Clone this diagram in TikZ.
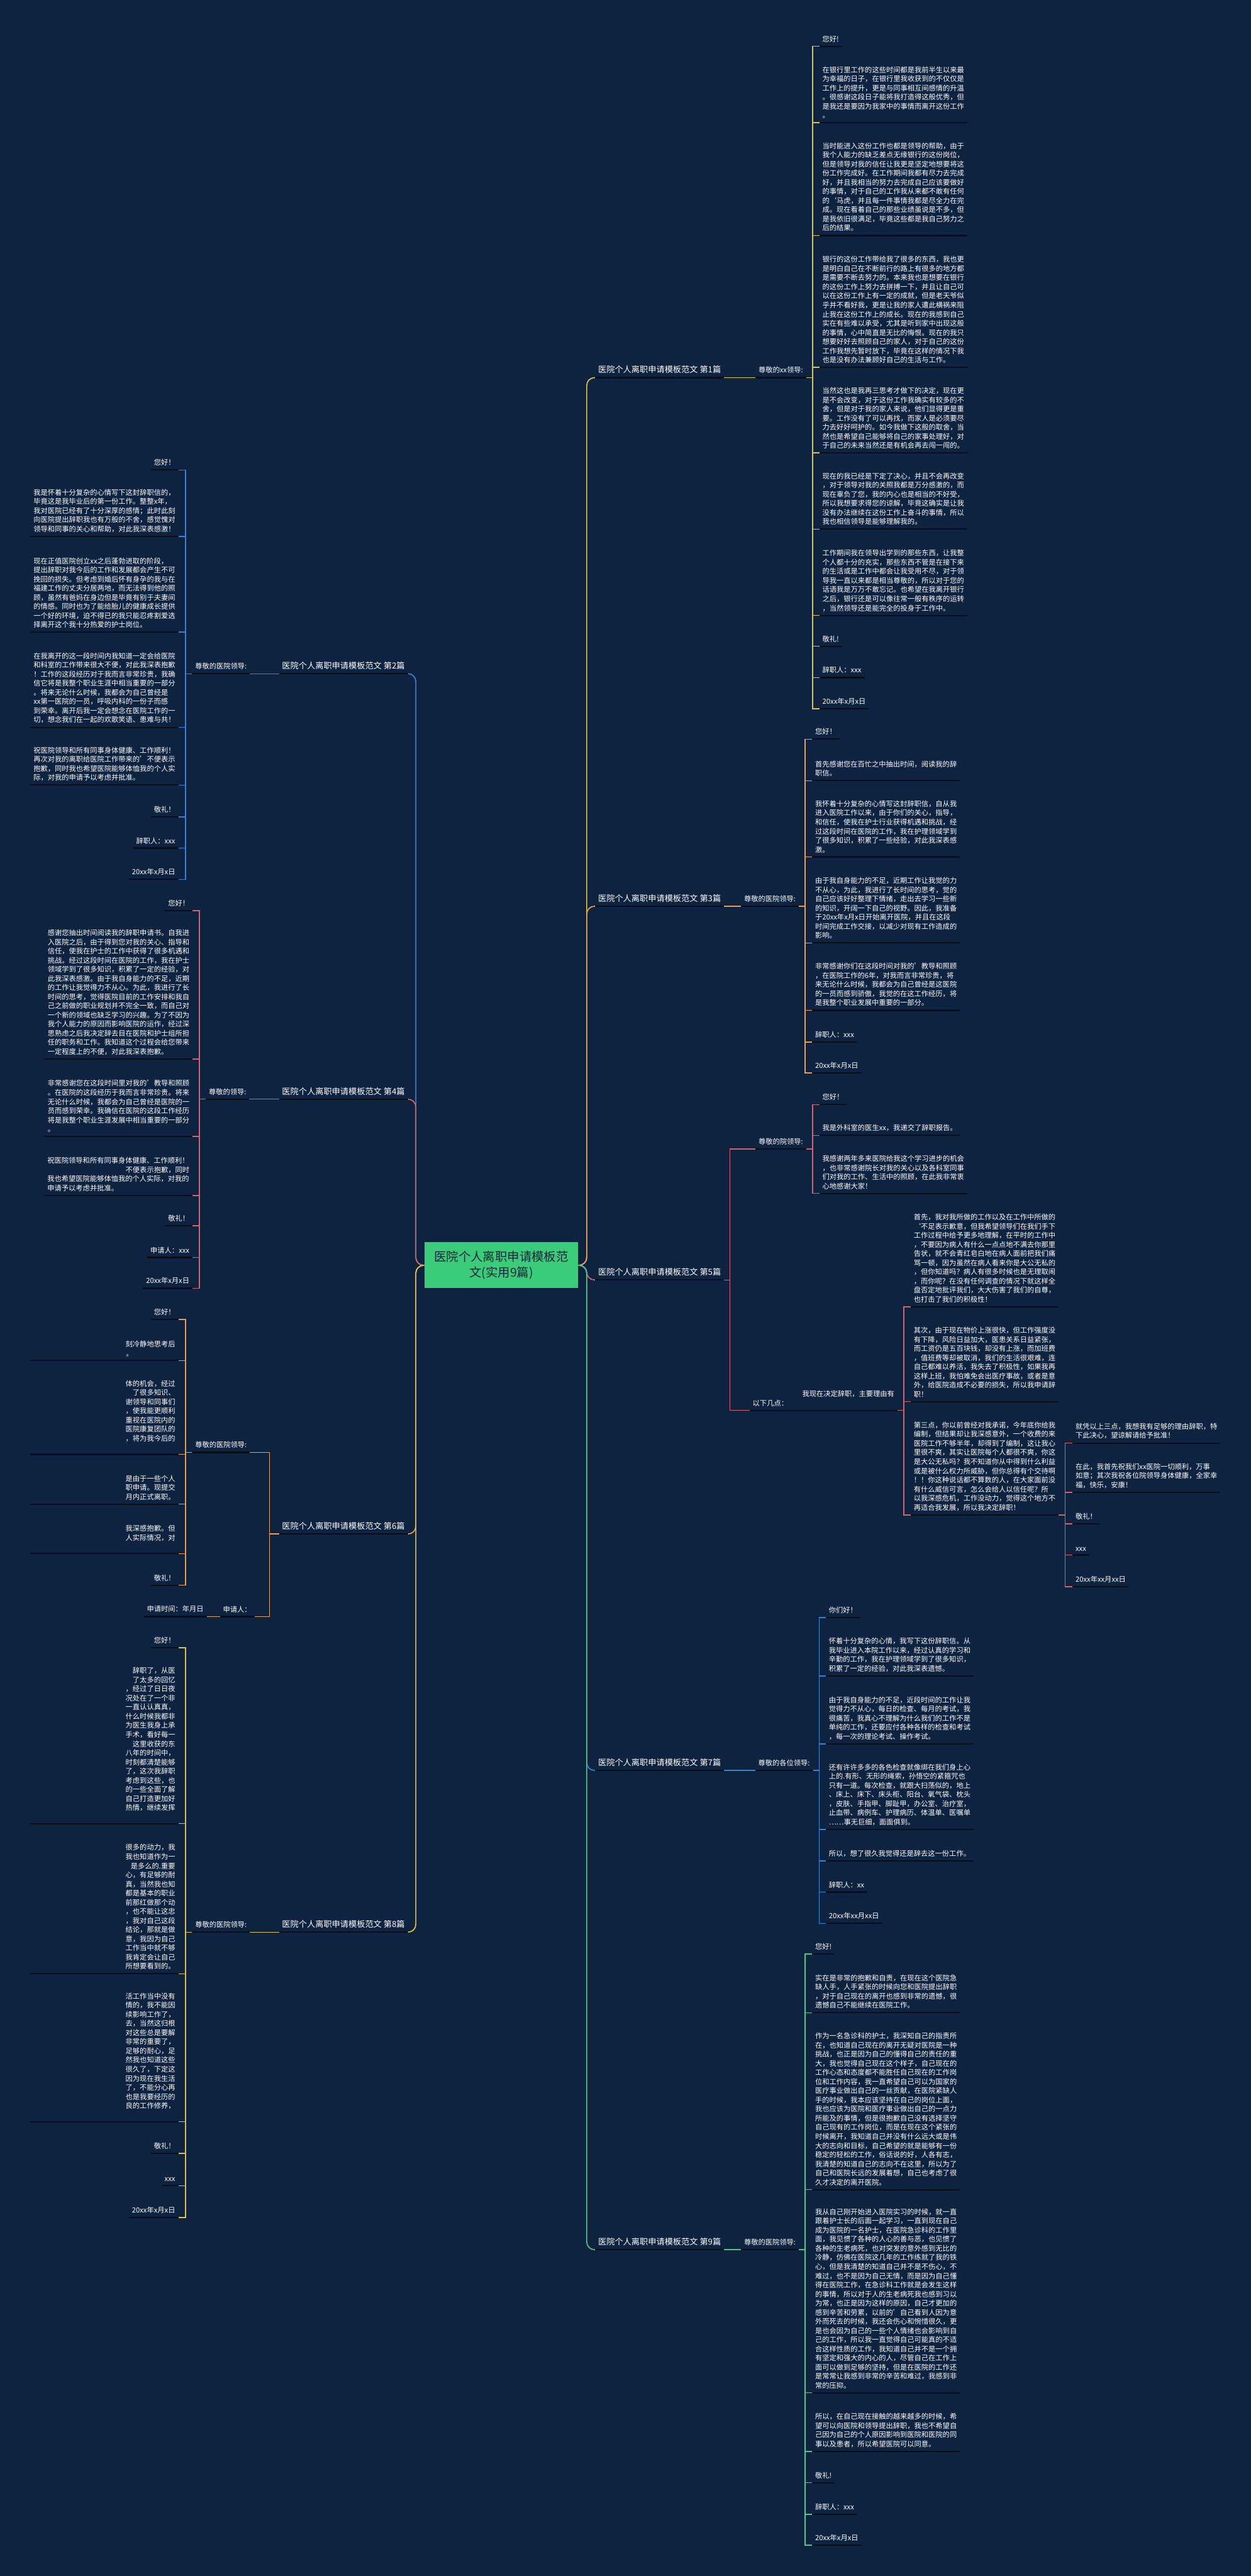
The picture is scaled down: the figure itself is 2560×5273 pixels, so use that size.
\documentclass[tikz,border=0pt]{standalone}
\usepackage{fontspec}
\setmainfont{Noto Sans CJK SC}
\XeTeXlinebreaklocale "zh"
\usetikzlibrary{calc}
\definecolor{bgc}{RGB}{14,35,64}
\definecolor{ulc}{RGB}{8,14,24}
\definecolor{cyel}{RGB}{222,196,72}
\definecolor{cora}{RGB}{232,160,80}
\definecolor{cred}{RGB}{214,100,110}
\definecolor{cblu}{RGB}{58,130,210}
\definecolor{cgrn}{RGB}{80,200,140}
\definecolor{croot}{RGB}{58,204,120}
\tikzset{
  leaf/.style={text=white, align=left, inner xsep=3pt, inner ysep=4pt,
    font=\fontsize{7.25pt}{9.35pt}\selectfont},
  frag/.style={leaf, align=right, text width=145pt},
  lab/.style={leaf, font=\fontsize{8.5pt}{10pt}\selectfont},
  uline/.style={draw=ulc, line width=1.4pt},
  wire/.style={draw=#1, line width=0.9pt},
  trunk/.style={draw=#1, line width=1.1pt, rounded corners=8pt}
}
\newcommand{\leafr}[4]{\node[leaf,anchor=south west] (#1) at (#2,#3) {#4};
  \draw[uline] (#1.south west) -- (#1.south east);}
\newcommand{\leafl}[4]{\node[leaf,anchor=south east] (#1) at (#2,#3) {#4};
  \draw[uline] (#1.south west) -- (#1.south east);}
\newcommand{\fragl}[4]{\node[frag,anchor=south east] (#1) at (#2,#3) {#4};
  \draw[uline] (#1.south west) -- (#1.south east);}
\newcommand{\linkr}[3]{\draw[wire=#1] (#2.south east) -- ++(13,0) |- (#3.south west);}
\newcommand{\linkl}[3]{\draw[wire=#1] (#2.south west) -- ++(-13,0) |- (#3.south east);}
\begin{document}
\begin{tikzpicture}[x=0.5pt,y=-0.5pt]
\useasboundingbox (0,0) rectangle (2560,5273);
\fill[bgc] (0,0) rectangle (2560,5273);
% root
\node[fill=croot, text=bgc, align=center, inner xsep=10pt, inner ysep=9pt,
  font=\fontsize{12.5pt}{16pt}\selectfont] (root) at (1026,2590)
  {医院个人离职申请模板范\\文(实用9篇)};
% branch labels right
\node[lab,anchor=south west] (b1) at (1218,773) {医院个人离职申请模板范文 第1篇};
\node[lab,anchor=south west] (b3) at (1218,1855) {医院个人离职申请模板范文 第3篇};
\node[lab,anchor=south west] (b5) at (1218,2620) {医院个人离职申请模板范文 第5篇};
\node[lab,anchor=south west] (b7) at (1218,3624) {医院个人离职申请模板范文 第7篇};
\node[lab,anchor=south west] (b9) at (1218,4605) {医院个人离职申请模板范文 第9篇};
% branch labels left
\node[lab,anchor=south east] (b2) at (835,1379) {医院个人离职申请模板范文 第2篇};
\node[lab,anchor=south east] (b4) at (835,2250) {医院个人离职申请模板范文 第4篇};
\node[lab,anchor=south east] (b6) at (835,3140) {医院个人离职申请模板范文 第6篇};
\node[lab,anchor=south east] (b8) at (835,3955) {医院个人离职申请模板范文 第8篇};
\foreach \b in {b1,b2,b3,b4,b5,b6,b7,b8,b9}
  {\draw[uline] (\b.south west) -- (\b.south east);}
% trunk
\draw[trunk=cyel] (root.east) -- ++(17,0) |- (b1.south west);
\draw[trunk=cora] (root.east) -- ++(17,0) |- (b3.south west);
\draw[trunk=cred] (root.east) -- ++(17,0) |- (b5.south west);
\draw[trunk=cblu] (root.east) -- ++(17,0) |- (b7.south west);
\draw[trunk=cgrn] (root.east) -- ++(17,0) |- (b9.south west);
\draw[trunk=cblu] (root.west) -- ++(-17,0) |- (b2.south east);
\draw[trunk=cred] (root.west) -- ++(-17,0) |- (b4.south east);
\draw[trunk=cora] (root.west) -- ++(-17,0) |- (b6.south east);
\draw[trunk=cyel] (root.west) -- ++(-17,0) |- (b8.south east);

% ---- 第1篇
\leafl{s1}{1650}{773}{尊敬的xx领导:}
\draw[wire=cyel] (b1.south east) -- (s1.south west);
\leafr{a1}{1677}{95}{您好!}
\leafr{a2}{1677}{251}{在银行里工作的这些时间都是我前半生以来最\\为幸福的日子，在银行里我收获到的不仅仅是\\工作上的提升，更是与同事相互间感情的升温\\。很感谢这段日子能将我打造得这般优秀，但\\是我还是要因为我家中的事情而离开这份工作\\。}
\leafr{a3}{1677}{482}{当时能进入这份工作也都是领导的帮助，由于\\我个人能力的缺乏差点无缘银行的这份岗位，\\但是领导对我的信任让我更是坚定地想要将这\\份工作完成好。在工作期间我都有尽力去完成\\好，并且我相当的努力去完成自己应该要做好\\的事情，对于自己的工作我从来都不敢有任何\\的`马虎，并且每一件事情我都是尽全力在完\\成。现在看着自己的那些业绩虽说是不多，但\\是我依旧很满足，毕竟这些都是我自己努力之\\后的结果。}
\leafr{a4}{1677}{752}{银行的这份工作带给我了很多的东西，我也更\\是明白自己在不断前行的路上有很多的地方都\\是需要不断去努力的。本来我也是想要在银行\\的这份工作上努力去拼搏一下，并且让自己可\\以在这份工作上有一定的成就，但是老天爷似\\乎并不看好我，更是让我的家人遭此横祸来阻\\止我在这份工作上的成长。现在的我感到自己\\实在有些难以承受，尤其是听到家中出现这般\\的事情，心中简直是无比的悔恨。现在的我只\\想要好好去照顾自己的家人，对于自己的这份\\工作我想先暂时放下，毕竟在这样的情况下我\\也是没有办法兼顾好自己的生活与工作。}
\leafr{a5}{1677}{927}{当然这也是我再三思考才做下的决定，现在更\\是不会改变，对于这份工作我确实有较多的不\\舍，但是对于我的家人来说，他们显得更是重\\要。工作没有了可以再找，而家人是必须要尽\\力去好好呵护的。如今我做下这般的取舍，当\\然也是希望自己能够将自己的家事处理好，对\\于自己的未来当然还是有机会再去闯一闯的。}
\leafr{a6}{1677}{1083}{现在的我已经是下定了决心，并且不会再改变\\，对于领导对我的关照我都是万分感激的，而\\现在辜负了您，我的内心也是相当的不好受，\\所以我想要求得您的谅解，毕竟这确实是让我\\没有办法继续在这份工作上奋斗的事情，所以\\我也相信领导是能够理解我的。}
\leafr{a7}{1677}{1260}{工作期间我在领导出学到的那些东西，让我整\\个人都十分的充实，那些东西不管是在接下来\\的生活或是工作中都会让我受用不尽，对于领\\导我一直以来都是相当尊敬的，所以对于您的\\话语我是万万不敢忘记。也希望在我离开银行\\之后，银行还是可以像往常一般有秩序的运转\\，当然领导还是能完全的投身于工作中。}
\leafr{a8}{1677}{1323}{敬礼!}
\leafr{a9}{1677}{1387}{辞职人：xxx}
\leafr{a10}{1677}{1451}{20xx年x月x日}
\foreach \c in {a1,a2,a3,a4,a5,a6,a7,a8,a9,a10}
  {\linkr{cyel}{s1}{\c}}

% ---- 第3篇
\leafl{s3}{1635}{1855}{尊敬的医院领导:}
\draw[wire=cora] (b3.south east) -- (s3.south west);
\leafr{c1}{1662}{1513}{您好！}
\leafr{c2}{1662}{1598}{首先感谢您在百忙之中抽出时间，阅读我的辞\\职信。}
\leafr{c3}{1662}{1754}{我怀着十分复杂的心情写这封辞职信，自从我\\进入医院工作以来，由于你们的关心，指导，\\和信任，使我在护士行业获得机遇和挑战，经\\过这段时间在医院的工作，我在护理领域学到\\了很多知识，积累了一些经验，对此我深表感\\激。}
\leafr{c4}{1662}{1930}{由于我自身能力的不足，近期工作让我觉的力\\不从心，为此，我进行了长时间的思考，觉的\\自己应该好好整理下情绪，走出去学习一些新\\的知识，开阔一下自己的视野。因此，我准备\\于20xx年x月x日开始离开医院，并且在这段\\时间完成工作交接，以减少对现有工作造成的\\影响。}
\leafr{c5}{1662}{2068}{非常感谢你们在这段时间对我的'教导和照顾\\，在医院工作的6年，对我而言非常珍贵，将\\来无论什么时候，我都会为自己曾经是这医院\\的一员而感到骄傲，我觉的在这工作经历，将\\是我整个职业发展中重要的一部分。}
\leafr{c6}{1662}{2133}{辞职人：xxx}
\leafr{c7}{1662}{2196}{20xx年x月x日}
\foreach \c in {c1,c2,c3,c4,c5,c6,c7}
  {\linkr{cora}{s3}{\c}}

% ---- 第5篇
\leafl{s5}{1650}{2352}{尊敬的院领导:}
\leafl{t5}{1837}{2887}{\hphantom{经过慎重考虑，}我现在决定辞职，主要理由有\\以下几点：}
\draw[wire=cred] (b5.south east) -- ++(12,0) |- (s5.south west);
\draw[wire=cred] (b5.south east) -- ++(12,0) |- (t5.south west);
\leafr{e1}{1677}{2261}{您好！}
\leafr{e2}{1677}{2324}{我是外科室的医生xx，我递交了辞职报告。}
\leafr{e3}{1677}{2443}{我感谢两年多来医院给我这个学习进步的机会\\，也非常感谢院长对我的关心以及各科室同事\\们对我的工作、生活中的照顾，在此我非常衷\\心地感谢大家！}
\foreach \c in {e1,e2,e3}
  {\linkr{cred}{s5}{\c}}
\leafr{r1}{1864}{2675}{首先，我对我所做的工作以及在工作中所做的\\`不足表示歉意，但我希望领导们在我们手下\\工作过程中给予更多地理解，在平时的工作中\\，不要因为病人有什么一点点地不满去你那里\\告状，就不会青红皂白地在病人面前把我们痛\\骂一顿，因为虽然在病人看来你是大公无私的\\，但你知道吗？病人有很多时候也是无理取闹\\，而你呢？在没有任何调查的情况下就这样全\\盘否定地批评我们，大大伤害了我们的自尊，\\也打击了我们的积极性！}
\leafr{r2}{1864}{2869}{其次，由于现在物价上涨很快，但工作强度没\\有下降，风险日益加大，医患关系日益紧张，\\而工资仍是五百块钱，却没有上涨，而加班费\\，值班费等却被取消，我们的生活很艰难，连\\自己都难以养活，我失去了积极性，如果我再\\这样上班，我怕难免会出医疗事故，或者是意\\外，给医院造成不必要的损失，所以我申请辞\\职！}
\leafr{r3}{1864}{3101}{第三点，你以前曾经对我承诺，今年底你给我\\编制，但结果却让我深感意外，一个收费的来\\医院工作不够半年，却得到了编制，这让我心\\里很不爽，其实让医院每个人都很不爽，你这\\是大公无私吗？我不知道你从中得到什么利益\\或是被什么权力所威胁，但你总得有个交待啊\\！！你这种说话都不算数的人，在大家面前没\\有什么威信可言，怎么会给人以信任呢？所\\以我深感危机，工作没动力，觉得这个地方不\\再适合我发展，所以我决定辞职！}
\foreach \c in {r1,r2,r3}
  {\linkr{cred}{t5}{\c}}
\leafr{f1}{2195}{2954}{就凭以上三点，我想我有足够的理由辞职，特\\下此决心，望谅解请给予批准！}
\leafr{f2}{2195}{3055}{在此，我首先祝我们xx医院一切顺利，万事\\如意；其次我祝各位院领导身体健康，全家幸\\福，快乐，安康！}
\leafr{f3}{2195}{3119}{敬礼！}
\leafr{f4}{2195}{3183}{xxx}
\leafr{f5}{2195}{3248}{20xx年xx月xx日}
\foreach \c in {f1,f2,f3,f4,f5}
  {\linkr{cred}{r3}{\c}}

% ---- 第7篇
\leafl{s7}{1664}{3624}{尊敬的各位领导:}
\draw[wire=cblu] (b7.south east) -- (s7.south west);
\leafr{g1}{1690}{3311}{你们好！}
\leafr{g2}{1690}{3431}{怀着十分复杂的心情，我写下这份辞职信。从\\我毕业进入本院工作以来，经过认真的学习和\\辛勤的工作，我在护理领域学到了很多知识，\\积累了一定的经验，对此我深表遗憾。}
\leafr{g3}{1690}{3570}{由于我自身能力的不足，近段时间的工作让我\\觉得力不从心，每日的检查、每月的考试，我\\很痛苦，我真心不理解为什么我们的工作不是\\单纯的工作，还要应付各种各样的检查和考试\\，每一次的理论考试、操作考试。}
\leafr{g4}{1690}{3745}{还有许许多多的各色检查就像绑在我们身上心\\上的.有形、无形的绳索，孙悟空的紧箍咒也\\只有一道。每次检查，就跟大扫荡似的，地上\\、床上、床下、床头柜、阳台、氧气袋、枕头\\，皮肤、手指甲、脚趾甲，办公室、治疗室，\\止血带、病例车、护理病历、体温单、医嘱单\\……事无巨细，面面俱到。}
\leafr{g5}{1690}{3809}{所以，想了很久我觉得还是辞去这一份工作。}
\leafr{g6}{1690}{3873}{辞职人：xx}
\leafr{g7}{1690}{3937}{20xx年xx月xx日}
\foreach \c in {g1,g2,g3,g4,g5,g6,g7}
  {\linkr{cblu}{s7}{\c}}

% ---- 第9篇
\leafl{s9}{1635}{4605}{尊敬的医院领导:}
\draw[wire=cgrn] (b9.south east) -- (s9.south west);
\leafr{h1}{1662}{4000}{您好!}
\leafr{h2}{1662}{4120}{实在是非常的抱歉和自责，在现在这个医院急\\缺人手，人手紧张的时候向您和医院提出辞职\\，对于自己现在的离开也感到非常的遗憾，很\\遗憾自己不能继续在医院工作。}
\leafr{h3}{1662}{4482}{作为一名急诊科的护士，我深知自己的指责所\\在，也知道自己现在的离开无疑对医院是一种\\挑战，也正是因为自己的懂得自己的责任的重\\大，我也觉得自己现在这个样子，自己现在的\\工作心态和态度都不能胜任自己现在的工作岗\\位和工作内容，我一直希望自己可以为国家的\\医疗事业做出自己的一丝贡献，在医院紧缺人\\手的时候，我本应该坚持在自己的岗位上面，\\我也应该为医院和医疗事业做出自己的一点力\\所能及的事情，但是很抱歉自己没有选择坚守\\自己现有的工作岗位，而是在现在这个紧张的\\时候离开，我知道自己并没有什么远大或是伟\\大的志向和目标，自己希望的就是能够有一份\\稳定的轻松的工作，俗话说的好，人各有志，\\我清楚的知道自己的志向不在这里，所以为了\\自己和医院长远的发展着想，自己也考虑了很\\久才决定的离开医院。}
\leafr{h4}{1662}{4898}{我从自己刚开始进入医院实习的时候，就一直\\跟着护士长的后面一起学习，一直到现在自己\\成为医院的一名护士，在医院急诊科的工作里\\面，我见惯了各种的人心的善与恶，也见惯了\\各种的生老病死，也对突发的意外感到无比的\\冷静，仿佛在医院这几年的工作练就了我的铁\\心，但是我清楚的知道自己并不是不伤心，不\\难过，也不是因为自己无情，而是因为自己懂\\得在医院工作，在急诊科工作就是会发生这样\\的事情，所以对于人的生老病死我也感到习以\\为常，也正是因为这样的原因，自己才更加的\\感到辛苦和劳累，以前的'自己看到人因为意\\外而死去的时候，我还会伤心和惋惜很久，更\\是也会因为自己的一些个人情绪也会影响到自\\己的工作，所以我一直觉得自己可能真的不适\\合这样性质的工作，我知道自己并不是一个拥\\有坚定和强大的内心的人，尽管自己在工作上\\面可以做到足够的坚持，但是在医院的工作还\\是常常让我感到非常的辛苦和难过，我感到非\\常的压抑。}
\leafr{h5}{1662}{5018}{所以，在自己现在接触的越来越多的时候，希\\望可以向医院和领导提出辞职，我也不希望自\\己因为自己的个人原因影响到医院和医院的同\\事以及患者，所以希望医院可以同意。}
\leafr{h6}{1662}{5082}{敬礼!}
\leafr{h7}{1662}{5147}{辞职人：xxx}
\leafr{h8}{1662}{5210}{20xx年x月x日}
\foreach \c in {h1,h2,h3,h4,h5,h6,h7,h8}
  {\linkr{cgrn}{s9}{\c}}

% ---- 第2篇
\leafr{s2}{393}{1379}{尊敬的医院领导:}
\draw[wire=cblu] (b2.south west) -- (s2.south east);
\leafl{k1}{365}{962}{您好！}
\leafl{k2}{365}{1098}{我是怀着十分复杂的心情写下这封辞职信的，\\毕竟这是我毕业后的第一份工作。整整x年，\\我对医院已经有了十分深厚的感情；此时此刻\\向医院提出辞职我也有万般的不舍，感觉愧对\\领导和同事的关心和帮助，对此我深表感激！}
\leafl{k3}{365}{1294}{现在正值医院创立xx之后蓬勃进取的阶段，\\提出辞职对我今后的工作和发展都会产生不可\\挽回的损失。但考虑到婚后怀有身孕的我与在\\福建工作的丈夫分居两地，而无法得到他的照\\顾，虽然有爸妈在身边但是毕竟有别于夫妻间\\的情感。同时也为了能给胎儿的健康成长提供\\一个好的环境，迫不得已的我只能忍疼割爱选\\择离开这个我十分热爱的护士岗位。}
\leafl{k4}{365}{1489}{在我离开的这一段时间内我知道一定会给医院\\和科室的工作带来很大不便，对此我深表抱歉\\！工作的这段经历对于我而言非常珍贵，我确\\信它将是我整个职业生涯中相当重要的一部分\\。将来无论什么时候，我都会为自己曾经是\\xx第一医院的一员，呼吸内科的一份子而感\\到荣幸。离开后我一定会想念在医院工作的一\\切，想念我们在一起的欢歌笑语、患难与共！}
\leafl{k5}{365}{1607}{祝医院领导和所有同事身体健康、工作顺利！\\再次对我的离职给医院工作带来的'不便表示\\抱歉，同时我也希望医院能够体恤我的个人实\\际，对我的申请予以考虑并批准。}
\leafl{k6}{365}{1672}{敬礼！}
\leafl{k7}{365}{1736}{辞职人：xxx}
\leafl{k8}{365}{1800}{20xx年x月x日}
\foreach \c in {k1,k2,k3,k4,k5,k6,k7,k8}
  {\linkl{cblu}{s2}{\c}}

% ---- 第4篇
\leafr{s4}{421}{2250}{尊敬的领导:}
\draw[wire=cred] (b4.south west) -- (s4.south east);
\leafl{m1}{394}{1864}{您好！}
\leafl{m2}{394}{2168}{感谢您抽出时间阅读我的辞职申请书。自我进\\入医院之后，由于得到您对我的关心、指导和\\信任，使我在护士的工作中获得了很多机遇和\\挑战。经过这段时间在医院的工作，我在护士\\领域学到了很多知识，积累了一定的经验，对\\此我深表感激。由于我自身能力的不足，近期\\的工作让我觉得力不从心。为此，我进行了长\\时间的思考，觉得医院目前的工作安排和我自\\己之前做的职业规划并不完全一致，而自己对\\一个新的领域也缺乏学习的兴趣。为了不因为\\我个人能力的原因而影响医院的运作，经过深\\思熟虑之后我决定辞去目在医院和护士组所担\\任的职务和工作。我知道这个过程会给您带来\\一定程度上的不便，对此我深表抱歉。}
\leafl{m3}{394}{2326}{非常感谢您在这段时间里对我的'教导和照顾\\。在医院的这段经历于我而言非常珍贵。将来\\无论什么时候，我都会为自己曾经是医院的一\\员而感到荣幸。我确信在医院的这段工作经历\\将是我整个职业生涯发展中相当重要的一部分\\。}
\leafl{m4}{394}{2447}{祝医院领导和所有同事身体健康、工作顺利！\\\hspace*{80pt}不便表示抱歉，同时\\我也希望医院能够体恤我的个人实际，对我的\\申请予以考虑并批准。}
\leafl{m5}{394}{2509}{敬礼！}
\leafl{m6}{394}{2574}{申请人：xxx}
\leafl{m7}{394}{2637}{20xx年x月x日}
\foreach \c in {m1,m2,m3,m4,m5,m6,m7}
  {\linkl{cred}{s4}{\c}}

% ---- 第6篇
\leafr{s6}{393}{2973}{尊敬的医院领导:}
\leafr{u6}{450}{3309}{申请人：}
\draw[wire=cora] (b6.south west) -- ++(-19,0) |- (s6.south east);
\draw[wire=cora] (b6.south west) -- ++(-19,0) |- (u6.south east);
\leafl{v1}{423}{3309}{申请时间：年月日}
\draw[wire=cora] (u6.south west) -- (v1.south east);
\leafl{n1}{365}{2701}{您好！}
\fragl{n2}{365}{2785}{刻冷静地思考后\\。\rule{43pt}{0pt}}
\fragl{n3}{365}{2977}{体的机会，经过\\了很多知识、\\谢领导和同事们\\，使我能更顺利\\重视在医院内的\\医院康复团队的\\，将为我今后的\\\mbox{}}
\fragl{n4}{365}{3079}{是由于一些个人\\职申请。现提交\\月内正式离职。}
\fragl{n5}{365}{3180}{我深感抱歉。但\\人实际情况，对\\\mbox{}}
\leafl{n6}{365}{3245}{敬礼！}
\foreach \c in {n1,n2,n3,n4,n5,n6}
  {\linkl{cora}{s6}{\c}}

% ---- 第8篇
\leafr{s8}{393}{3955}{尊敬的医院领导:}
\draw[wire=cyel] (b8.south west) -- (s8.south east);
\leafl{p1}{365}{3373}{您好！}
\fragl{p2}{365}{3733}{辞职了，从医\\了太多的回忆\\，经过了日日夜\\况处在了一个非\\一直认认真真，\\什么时候我都非\\为医生我身上承\\手术，看好每一\\这里收获的东\\八年的时间中，\\时刻都清楚能够\\了，这次我辞职\\考虑到这些，也\\的一些全面了解\\自己打造更加好\\热情，继续发挥\\\mbox{}}
\fragl{p3}{365}{4040}{很多的动力，我\\我也知道作为一\\是多么的.重要\\心，有足够的耐\\真，当然我也知\\都是基本的职业\\前那红做那个动\\，也不能让这忠\\，我对自己这段\\结论，那就是做\\意，我因为自己\\工作当中就不够\\我肯定会让自己\\所想要看到的。}
\fragl{p4}{365}{4343}{活工作当中没有\\情的，我不能因\\续影响工作了，\\去，当然这归根\\对这些总是要解\\非常的重要了，\\足够的耐心，足\\然我也知道这些\\很久了，下定这\\因为现在我生活\\了，不能分心再\\也是我要经历的\\良的工作修养，\\\mbox{}}
\leafl{p5}{365}{4408}{敬礼！}
\leafl{p6}{365}{4474}{xxx}
\leafl{p7}{365}{4539}{20xx年x月x日}
\foreach \c in {p1,p2,p3,p4,p5,p6,p7}
  {\linkl{cyel}{s8}{\c}}
\end{tikzpicture}
\end{document}
